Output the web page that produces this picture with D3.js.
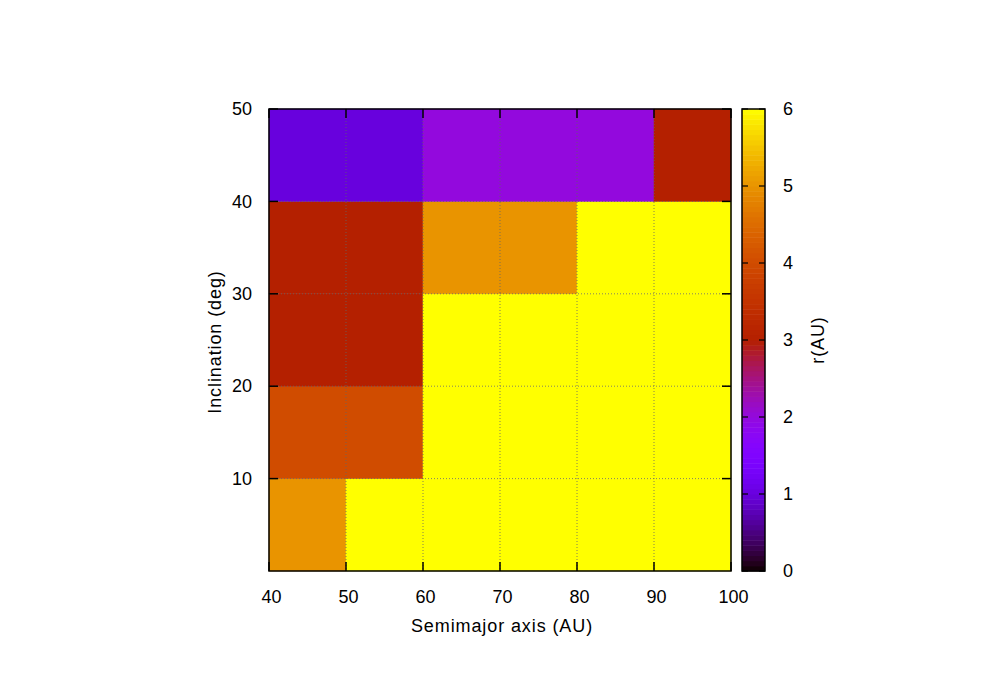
<!DOCTYPE html>
<html>
<head>
<meta charset="utf-8">
<script src="https://cdn.jsdelivr.net/npm/d3@7"></script>
<style>
  body { margin: 0; background: #fff; }
  text { font-family: "Liberation Sans", Arial, sans-serif; fill: #000; }
</style>
</head>
<body>
<div id="chart"></div>
<script>
// data: lower edges of the cells and r values, rows = inclination bins
var semimajor = [40, 50, 60, 70, 80, 90];
var inclination = [0, 10, 20, 30, 40];
var rRow0 = [5, 6, 6, 6, 6, 6];     // 0-10 deg
var rRow10 = [4, 4, 6, 6, 6, 6];    // 10-20 deg
var rRow20 = [3, 3, 6, 6, 6, 6];    // 20-30 deg
var rRow30 = [3, 3, 5, 5, 6, 6];    // 30-40 deg
var rRow40 = [1, 1, 2, 2, 2, 3];    // 40-50 deg
var rRows = [rRow0, rRow10, rRow20, rRow30, rRow40];
var xTicks = [40, 50, 60, 70, 80, 90, 100];
var yTicks = [10, 20, 30, 40, 50];
var cbTicks = [0, 1, 2, 3, 4, 5, 6];

var W = 1000, H = 700;
var plot = {left: 269, top: 109, right: 731, bottom: 571};
var cb = {left: 742, right: 765};

var svg = d3.select("#chart").append("svg")
    .attr("width", W).attr("height", H);

var x = d3.scaleLinear().domain([40, 100]).range([plot.left, plot.right]);
var y = d3.scaleLinear().domain([0, 50]).range([plot.bottom, plot.top]);
var cy = d3.scaleLinear().domain([0, 6]).range([plot.bottom, plot.top]);

// gnuplot default palette (rgbformulae 7,5,15)
function palette(t) {
  t = Math.max(0, Math.min(1, t));
  var r = Math.sqrt(t), g = t * t * t, b = Math.max(0, Math.sin(2 * Math.PI * t));
  return d3.rgb(r * 255, g * 255, b * 255).toString();
}
var color = d3.scaleSequential(palette).domain([0, 6]);

// cells
var cells = [];
rRows.forEach(function(row, i) {
  row.forEach(function(v, j) {
    cells.push({a: semimajor[j], inc: inclination[i], r: v});
  });
});

svg.append("g").selectAll("rect")
  .data(cells)
  .enter().append("rect")
    .attr("x", function(d) { return x(d.a); })
    .attr("y", function(d) { return y(d.inc + 10); })
    .attr("width", function(d) { return x(d.a + 10) - x(d.a); })
    .attr("height", function(d) { return y(d.inc) - y(d.inc + 10); })
    .attr("fill", function(d) { return color(d.r); })
    .attr("stroke", function(d) { return color(d.r); })
    .attr("stroke-width", 0.5);

// grid
var grid = svg.append("g")
    .attr("stroke", "#666")
    .attr("stroke-width", 0.8)
    .attr("stroke-dasharray", "1,2");
grid.selectAll(".gx").data(xTicks.slice(1, -1)).enter().append("line")
    .attr("x1", function(d) { return x(d); }).attr("x2", function(d) { return x(d); })
    .attr("y1", plot.top).attr("y2", plot.bottom);
grid.selectAll(".gy").data(yTicks.slice(0, -1)).enter().append("line")
    .attr("x1", plot.left).attr("x2", plot.right)
    .attr("y1", function(d) { return y(d); }).attr("y2", function(d) { return y(d); });

// ticks (inward, mirrored)
var tk = 9;
var ticks = svg.append("g").attr("stroke", "#000").attr("stroke-width", 1.5);
xTicks.forEach(function(d) {
  ticks.append("line").attr("x1", x(d)).attr("x2", x(d)).attr("y1", plot.bottom).attr("y2", plot.bottom - tk);
  ticks.append("line").attr("x1", x(d)).attr("x2", x(d)).attr("y1", plot.top).attr("y2", plot.top + tk);
});
yTicks.forEach(function(d) {
  ticks.append("line").attr("x1", plot.left).attr("x2", plot.left + tk).attr("y1", y(d)).attr("y2", y(d));
  ticks.append("line").attr("x1", plot.right).attr("x2", plot.right - tk).attr("y1", y(d)).attr("y2", y(d));
});

svg.append("rect")
    .attr("x", plot.left).attr("y", plot.top)
    .attr("width", plot.right - plot.left).attr("height", plot.bottom - plot.top)
    .attr("fill", "none").attr("stroke", "#000").attr("stroke-width", 1.5);

// axis labels via d3 axes
var xAxis = svg.append("g")
    .attr("transform", "translate(2," + plot.bottom + ")")
    .call(d3.axisBottom(x).tickValues(xTicks).tickSize(0).tickPadding(19).tickFormat(d3.format("d")));
var yAxis = svg.append("g")
    .attr("transform", "translate(" + plot.left + ",0)")
    .call(d3.axisLeft(y).tickValues(yTicks).tickSize(0).tickPadding(17).tickFormat(d3.format("d")));
[xAxis, yAxis].forEach(function(a) {
  a.select(".domain").remove();
  a.selectAll("text").style("font-size", "18px").style("font-family", "'Liberation Sans', Arial, sans-serif").attr("fill", "#000");
});

svg.append("text")
    .attr("x", (plot.left + plot.right) / 2 + 2).attr("y", 632)
    .attr("text-anchor", "middle")
    .style("font-size", "18px").style("letter-spacing", "0.9px")
    .text("Semimajor axis (AU)");
svg.append("text")
    .attr("transform", "translate(221," + ((plot.top + plot.bottom) / 2 + 2) + ") rotate(-90)")
    .attr("text-anchor", "middle")
    .style("font-size", "18px").style("letter-spacing", "0.9px")
    .text("Inclination (deg)");

// colour box
var steps = d3.range(0, 6, 6 / 90);
svg.append("g").selectAll("rect")
  .data(steps)
  .enter().append("rect")
    .attr("x", cb.left)
    .attr("y", function(d) { return cy(d + 6 / 90); })
    .attr("width", cb.right - cb.left)
    .attr("height", function(d) { return cy(d) - cy(d + 6 / 90) + 0.5; })
    .attr("fill", function(d) { return color(d + 3 / 90); });

var cbt = svg.append("g").attr("stroke", "#000").attr("stroke-width", 1.2);
cbTicks.forEach(function(d) {
  cbt.append("line").attr("x1", cb.left).attr("x2", cb.left + 6).attr("y1", cy(d)).attr("y2", cy(d));
  cbt.append("line").attr("x1", cb.right).attr("x2", cb.right - 6).attr("y1", cy(d)).attr("y2", cy(d));
});
svg.append("rect")
    .attr("x", cb.left).attr("y", plot.top)
    .attr("width", cb.right - cb.left).attr("height", plot.bottom - plot.top)
    .attr("fill", "none").attr("stroke", "#000").attr("stroke-width", 1.5);

var cAxis = svg.append("g")
    .attr("transform", "translate(" + cb.right + ",0)")
    .call(d3.axisRight(cy).tickValues(cbTicks).tickSize(0).tickPadding(18).tickFormat(d3.format("d")));
cAxis.select(".domain").remove();
cAxis.selectAll("text").style("font-size", "18px").style("font-family", "'Liberation Sans', Arial, sans-serif").attr("fill", "#000");

svg.append("text")
    .attr("transform", "translate(824," + ((plot.top + plot.bottom) / 2) + ") rotate(-90)")
    .attr("text-anchor", "middle")
    .style("font-size", "18px").style("letter-spacing", "0.9px")
    .text("r(AU)");
</script>
</body>
</html>
